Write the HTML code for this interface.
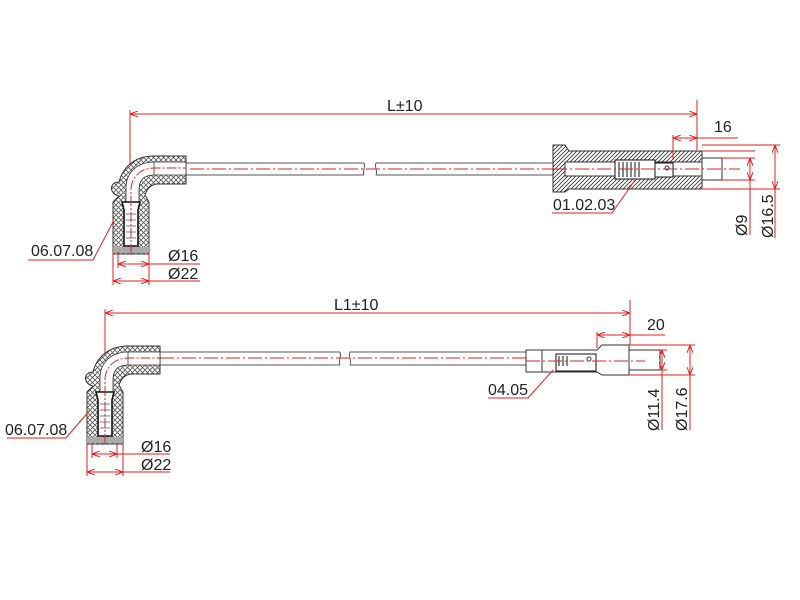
<!DOCTYPE html>
<html><head><meta charset="utf-8"><style>
html,body{margin:0;padding:0;background:#fff;}
svg{display:block;}
text{font-family:"Liberation Sans",Arial,sans-serif;fill:#222;}
</style></head><body>
<svg width="800" height="600" viewBox="0 0 800 600" xmlns="http://www.w3.org/2000/svg">
<defs>
<pattern id="xh" width="5" height="5" patternUnits="userSpaceOnUse">
<rect width="5" height="5" fill="#fff"/>
<path d="M0,0 L5,5 M5,0 L0,5" stroke="#555" stroke-width="0.8"/>
</pattern>
<pattern id="hh" width="4" height="4" patternUnits="userSpaceOnUse">
<rect width="4" height="4" fill="#fff"/>
<path d="M-1,5 L5,-1 M-1,1 L1,-1 M3,5 L5,3" stroke="#333" stroke-width="0.8"/>
</pattern>
<marker id="ar" markerWidth="8" markerHeight="6" refX="8" refY="3" orient="auto-start-reverse" markerUnits="userSpaceOnUse">
<path d="M0,0 L8,3 L0,6" fill="none" stroke="#d22" stroke-width="1"/>
</marker>
<g id="elbow">
  <path d="M87,444 V392 L93,386 C83,384 83,372 93,372 C97,356 110,346 128,346 H160 V374 H132 C125,374 121,379 119,385 L123,392 V444 Z" fill="url(#xh)" stroke="#333" stroke-width="1"/>
  <path d="M100,392 V378 C100,362 112,352 128,352 H160 V365 H128 C118,365 113,370 113,380 V392 Z" fill="#fff" stroke="#333" stroke-width="0.8"/>
  <line x1="128" y1="352" x2="128" y2="365" stroke="#333" stroke-width="0.8"/>
  <path d="M96,392 H114 L112,400 V436 H98 V400 Z" fill="#fff" stroke="#111" stroke-width="1.6"/>
  <path d="M100,404 H110 M100,410 H110 M100,416 H110 M100,422 H110 M100,428 H110" stroke="#555" stroke-width="0.8"/>
  <rect x="87" y="437" width="36" height="6" fill="#aaa"/>
  <path d="M105,444 V380 C105,367 115,358 128,358 H160" fill="none" stroke="#d22" stroke-width="1" stroke-dasharray="10,2,2,2"/>
</g>
</defs>

<g fill="none" stroke-width="1">
<line x1="130" y1="114" x2="697" y2="114" stroke="#d22" marker-start="url(#ar)" marker-end="url(#ar)"/>
<line x1="130" y1="110" x2="130" y2="200" stroke="#d22"/>
<line x1="697" y1="100" x2="697" y2="150" stroke="#d22"/>
<path d="M186,163 H364 M186,175 H364 M376,163 H553 M376,175 H553" stroke="#555"/>
<path d="M364,163 c2,4 -2,8 0,12 M376,163 c-2,4 2,8 0,12" stroke="#555"/>
<line x1="190" y1="169" x2="553" y2="169" stroke="#d22" stroke-dasharray="14,3,2,3"/>
</g>
<use href="#elbow" transform="translate(26,-190)"/>

<g stroke="#333" stroke-width="1">
<path d="M553,145 H565 L569,151 H702 V189 H569 L565,192 H553 Z" fill="url(#hh)"/>
<path d="M565,162 H702 V176 H565 Z" fill="#fff"/>
<rect x="702" y="158" width="20" height="22" fill="#fff"/>
<rect x="615" y="160" width="40" height="19" fill="#fff" stroke="#111"/>
<path d="M619,162 V177 M623,162 V177 M627,162 V177 M631,162 V177 M635,162 V177 M639,162 V177" stroke="#111"/>
<rect x="655" y="163" width="18" height="14" fill="#fff" stroke="#111"/>
<circle cx="667" cy="168" r="2" fill="#fff"/>
</g>
<g fill="none" stroke="#d22" stroke-width="1">
<line x1="553" y1="169" x2="740" y2="169" stroke-dasharray="14,3,2,3"/>
<line x1="673" y1="135" x2="673" y2="160"/>
<line x1="673" y1="138" x2="697" y2="138" marker-start="url(#ar)" marker-end="url(#ar)"/>
<line x1="697" y1="138" x2="738" y2="138"/>
<line x1="702" y1="151" x2="755" y2="151"/>
<line x1="722" y1="158" x2="755" y2="158"/>
<line x1="722" y1="180" x2="755" y2="180"/>
<line x1="702" y1="189" x2="780" y2="189"/>
<line x1="702" y1="145" x2="780" y2="145"/>
<line x1="750" y1="158" x2="750" y2="180" marker-start="url(#ar)" marker-end="url(#ar)"/>
<line x1="750" y1="180" x2="750" y2="235"/>
<line x1="775" y1="145" x2="775" y2="189" marker-start="url(#ar)" marker-end="url(#ar)"/>
<line x1="775" y1="189" x2="775" y2="238"/>
<polyline points="552,213 612,213 635,180"/>
<polyline points="28,260 93,260 113,222"/>
<line x1="118" y1="252" x2="118" y2="268"/>
<line x1="149" y1="252" x2="149" y2="285"/>
<line x1="113" y1="252" x2="113" y2="285"/>
<line x1="118" y1="264" x2="149" y2="264" marker-start="url(#ar)" marker-end="url(#ar)"/>
<line x1="149" y1="264" x2="200" y2="264"/>
<line x1="113" y1="281" x2="149" y2="281" marker-start="url(#ar)" marker-end="url(#ar)"/>
<line x1="149" y1="281" x2="200" y2="281"/>
</g>
<text x="387" y="111" font-size="16">L±10</text>
<text x="714" y="132" font-size="16">16</text>
<text x="553" y="210" font-size="16">01.02.03</text>
<text x="31" y="256" font-size="16">06.07.08</text>
<text x="168" y="261" font-size="16">Ø16</text>
<text x="168" y="279" font-size="16">Ø22</text>
<text font-size="16" transform="translate(747,236) rotate(-90)">Ø9</text>
<text font-size="16" transform="translate(773,238) rotate(-90)">Ø16.5</text>

<g fill="none" stroke-width="1">
<line x1="105" y1="313" x2="630" y2="313" stroke="#d22" marker-start="url(#ar)" marker-end="url(#ar)"/>
<line x1="105" y1="309" x2="105" y2="390" stroke="#d22"/>
<line x1="630" y1="300" x2="630" y2="345" stroke="#d22"/>
<path d="M160,352 H340 M160,365 H340 M350,352 H526 M350,365 H526" stroke="#555"/>
<path d="M340,352 c2,4 -2,8 0,13 M350,352 c-2,4 2,8 0,13" stroke="#555"/>
<line x1="160" y1="358" x2="526" y2="358" stroke="#d22" stroke-dasharray="14,3,2,3"/>
</g>
<use href="#elbow"/>

<g stroke="#333" stroke-width="1" fill="#fff">
<path d="M526,350 H597 L602,345 H629 V375 H602 L597,372 H526 Z"/>
<line x1="542" y1="350" x2="542" y2="372"/>
<rect x="629" y="350" width="31" height="20"/>
<rect x="556" y="354" width="40" height="17" stroke="#111"/>
<path d="M559,356 V366 M563,356 V366 M567,356 V366" stroke="#111"/>
<circle cx="589" cy="359" r="2"/>
</g>
<g fill="none" stroke="#d22" stroke-width="1">
<line x1="526" y1="361" x2="645" y2="361" stroke-dasharray="14,3,2,3"/>
<line x1="597" y1="332" x2="597" y2="348"/>
<line x1="597" y1="335" x2="630" y2="335" marker-start="url(#ar)" marker-end="url(#ar)"/>
<line x1="630" y1="335" x2="665" y2="335"/>
<line x1="629" y1="345" x2="695" y2="345"/>
<line x1="660" y1="350" x2="667" y2="350"/>
<line x1="660" y1="370" x2="667" y2="370"/>
<line x1="629" y1="375" x2="695" y2="375"/>
<line x1="662" y1="350" x2="662" y2="370" marker-start="url(#ar)" marker-end="url(#ar)"/>
<line x1="662" y1="370" x2="662" y2="430"/>
<line x1="690" y1="345" x2="690" y2="375" marker-start="url(#ar)" marker-end="url(#ar)"/>
<line x1="690" y1="375" x2="690" y2="430"/>
<polyline points="488,398 528,398 553,370"/>
<polyline points="7,438 66,438 90,410"/>
<line x1="92" y1="443" x2="92" y2="458"/>
<line x1="123" y1="443" x2="123" y2="476"/>
<line x1="87" y1="443" x2="87" y2="476"/>
<line x1="117" y1="443" x2="117" y2="458"/>
<line x1="92" y1="454" x2="117" y2="454" marker-start="url(#ar)" marker-end="url(#ar)"/>
<line x1="117" y1="454" x2="170" y2="454"/>
<line x1="87" y1="472" x2="123" y2="472" marker-start="url(#ar)" marker-end="url(#ar)"/>
<line x1="123" y1="472" x2="170" y2="472"/>
</g>
<text x="334" y="310" font-size="16">L1±10</text>
<text x="647" y="330" font-size="16">20</text>
<text x="488" y="395" font-size="16">04.05</text>
<text x="5" y="435" font-size="16">06.07.08</text>
<text x="141" y="452" font-size="16">Ø16</text>
<text x="141" y="470" font-size="16">Ø22</text>
<text font-size="16" transform="translate(659,431) rotate(-90)">Ø11.4</text>
<text font-size="16" transform="translate(687,431) rotate(-90)">Ø17.6</text>
</svg>
</body></html>
